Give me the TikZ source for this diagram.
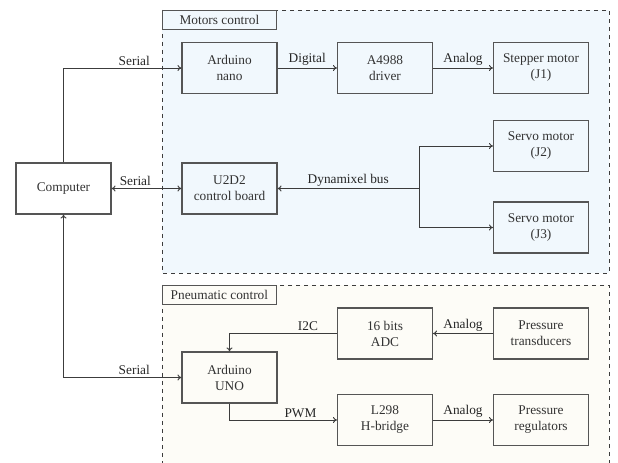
\documentclass[tikz,border=0pt]{standalone}
\usepackage{fontspec}
\setmainfont{Liberation Serif}
\usetikzlibrary{arrows.meta}
\definecolor{motfill}{RGB}{241,248,253}
\definecolor{pnefill}{RGB}{253,252,247}
\definecolor{boxline}{RGB}{85,85,85}
\definecolor{arrline}{RGB}{60,60,60}
\begin{document}
\begin{tikzpicture}[x=0.75pt,y=-0.75pt,
  blk/.style={draw=boxline,line width=0.8pt,minimum width=95*0.75pt,minimum height=51*0.75pt,align=center,inner sep=0pt,font=\fontsize{10}{12}\selectfont,text=black!80},
  grp/.style={draw=arrline,dashed,line width=0.6pt},
  grplbl/.style={draw=boxline,line width=0.6pt,minimum width=114*0.75pt,minimum height=19*0.75pt,inner sep=0pt,font=\fontsize{10}{12}\selectfont,text=black!80},
  conn/.style={draw=arrline,line width=0.7pt,-{To[length=3pt,width=4.5pt]}},
  bconn/.style={draw=arrline,line width=0.7pt,{To[length=3pt,width=4.5pt]}-{To[length=3pt,width=4.5pt]}},
  lbl/.style={font=\fontsize{10}{12}\selectfont,text=black!85,inner sep=1.5pt}]
\useasboundingbox (0,0) rectangle (618,463);
\begin{scope}
\clip (0,0) rectangle (618,463);
\filldraw[grp,fill=motfill] (162,10) rectangle (609,273);
\filldraw[grp,fill=pnefill] (162,285) rectangle (609,475);
\end{scope}
\node[grplbl,anchor=north west] (mlbl) at (162,10) {Motors control};
\node[grplbl,anchor=north west] (plbl) at (162,285) {Pneumatic control};

\node[blk] (comp) at (63.5,188.5) {Computer};
\node[blk] (nano) at (229.5,68) {Arduino\\nano};
\node[blk] (a4988) at (385,68) {A4988\\driver};
\node[blk] (step) at (541,68) {Stepper motor\\(J1)};
\node[blk] (u2d2) at (229.5,188.5) {U2D2\\control board};
\node[blk] (j2) at (541,146) {Servo motor\\(J2)};
\node[blk] (j3) at (541,227.5) {Servo motor\\(J3)};
\node[blk] (uno) at (229.5,377.5) {Arduino\\UNO};
\node[blk] (adc) at (385,333.5) {16 bits\\ADC};
\node[blk] (trans) at (541,333.5) {Pressure\\transducers};
\node[blk] (lb) at (385,420) {L298\\H-bridge};
\node[blk] (reg) at (541,420) {Pressure\\regulators};

\coordinate (br) at (419,188.5);

\draw[conn] (comp.north) |- (nano.west) node[lbl,pos=0.8,above] {Serial};
\draw[bconn] (comp.east) -- (u2d2.west) node[lbl,pos=0.34,above] {Serial};
\draw[bconn] (comp.south) |- (uno.west) node[lbl,pos=0.8,above] {Serial};
\draw[conn] (nano.east) -- (a4988.west) node[lbl,midway,above] {Digital};
\draw[conn] (a4988.east) -- (step.west) node[lbl,midway,above] {Analog};
\draw[conn] (br) -- (u2d2.east) node[lbl,midway,above] {Dynamixel bus};
\draw[conn] (br) |- (j2.west);
\draw[conn] (br) |- (j3.west);
\draw[conn] (trans.west) -- (adc.east) node[lbl,midway,above] {Analog};
\draw[conn] (adc.west) -| (uno.north) node[lbl,pos=0.135,above] {I2C};
\draw[conn] (uno.south) |- (lb.west) node[lbl,pos=0.83,above] {PWM};
\draw[conn] (lb.east) -- (reg.west) node[lbl,midway,above] {Analog};
\end{tikzpicture}
\end{document}
